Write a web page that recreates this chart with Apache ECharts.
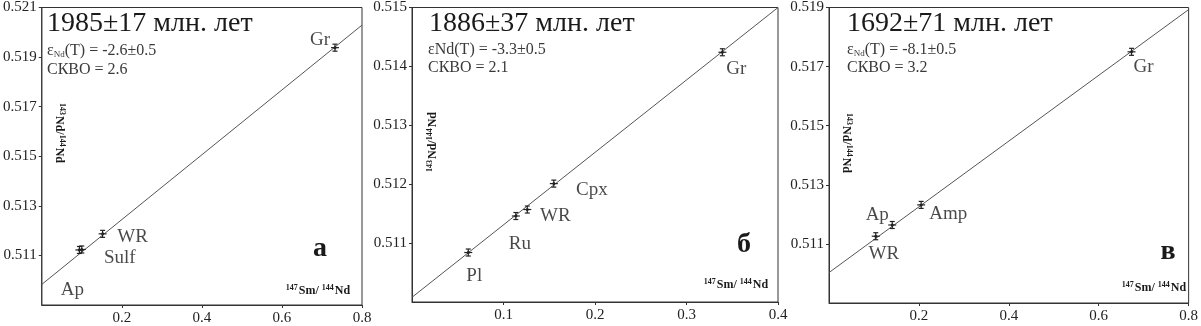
<!DOCTYPE html>
<html><head><meta charset="utf-8">
<script src="https://cdn.jsdelivr.net/npm/echarts@6/dist/echarts.min.js"></script>
<style>html,body{margin:0;padding:0;background:#fff}#c{width:1201px;height:326px}</style>
</head><body><div id="c"></div><script>
// ---- data: panel а ----
const aNames = ['Ap', 'Sulf', 'WR', 'Gr'];
const aX = [0.094, 0.100, 0.152, 0.7325];
const aY = [0.51122, 0.51124, 0.51187, 0.51938];
const aLineX = [0, 0.8];
const aLineY = [0.50983, 0.52029];
// ---- data: panel б ----
const bNames = ['Pl', 'Ru', 'WR', 'Cpx', 'Gr'];
const bX = [0.0615, 0.1135, 0.126, 0.155, 0.3392];
const bY = [0.51084, 0.51146, 0.51157, 0.51201, 0.51424];
const bLineX = [0, 0.4];
const bLineY = [0.51008, 0.51500];
// ---- data: panel в ----
const cNames = ['WR', 'Ap', 'Amp', 'Gr'];
const cX = [0.104, 0.1407, 0.205, 0.673];
const cY = [0.51126, 0.51164, 0.51232, 0.5175];
const cLineX = [0, 0.8];
const cLineY = [0.51003, 0.51893];
// ---- text ----
const titles = ['1985±17 млн. лет', '1886±37 млн. лет', '1692±71 млн. лет'];
const epsVals = ['-2.6±0.5', '-3.3±0.5', '-8.1±0.5'];
const mswd = ['СКВО = 2.6', 'СКВО = 2.1', 'СКВО = 3.2'];
const letters = ['а', 'б', 'в'];

// ---- layout / styles ----
const FONT = '"Liberation Serif", "Times New Roman", serif';
const grids = [
  {left: 36, top: 1, width: 326, height: 305},
  {left: 412, top: 1, width: 366, height: 301},
  {left: 829, top: 1, width: 369, height: 302}
];
const xRanges = [[0, 0.8, 0.2], [0, 0.4, 0.1], [0, 0.8, 0.2]];
const yRanges = [[0.509, 0.521, 0.002], [0.510, 0.515, 0.001], [0.509, 0.519, 0.002]];
const labelOffsets = [
  {Ap: [-7, 40], Sulf: [38, 9], WR: [30, 3], Gr: [-15, -8]},
  {Pl: [6, 23], Ru: [4, 28], WR: [28, 6], Cpx: [38, 6], Gr: [14, 17]},
  {WR: [8, 18], Ap: [-15, -10], Amp: [27, 9], Gr: [12, 15]}
];
const textPos = [
  {title: [47, 24], eps: [47, 51], mswd: [47, 70], letter: [320, 249], xname: [318, 290], yname: [60, 133], yrot: -Math.PI / 2},
  {title: [429, 24], eps: [428, 50], mswd: [428, 68], letter: [744, 245], xname: [736, 284], yname: [432, 142], yrot: Math.PI / 2},
  {title: [847, 24], eps: [847, 50], mswd: [847, 68], letter: [1168, 252], xname: [1154, 287], yname: [847, 143], yrot: -Math.PI / 2}
];

const panels = [
  {names: aNames, x: aX, y: aY, lx: aLineX, ly: aLineY},
  {names: bNames, x: bX, y: bY, lx: bLineX, ly: bLineY},
  {names: cNames, x: cX, y: cY, lx: cLineX, ly: cLineY}
];

const gridOpt = grids.map(g => Object.assign({show: true, borderColor: '#333', borderWidth: 1, backgroundColor: 'transparent'}, g));
const xAxes = xRanges.map((r, i) => ({
  type: 'value', gridIndex: i, min: r[0], max: r[1], interval: r[2],
  axisLine: {show: true, lineStyle: {color: '#333', width: 1}},
  axisTick: {show: true, inside: false, length: 3, lineStyle: {color: '#333'}},
  splitLine: {show: false},
  axisLabel: {showMinLabel: false, fontFamily: FONT, fontSize: 15, color: '#222', margin: 6,
    formatter: v => v.toFixed(1)}
}));
const yAxes = yRanges.map((r, i) => ({
  type: 'value', gridIndex: i, min: r[0], max: r[1], interval: r[2],
  axisLine: {show: true, lineStyle: {color: '#333', width: 1}},
  axisTick: {show: true, inside: false, length: 3, lineStyle: {color: '#333'}},
  splitLine: {show: false},
  axisLabel: {showMinLabel: false, fontFamily: FONT, fontSize: 15, color: '#222', margin: 5,
    formatter: v => v.toFixed(3)}
}));

const series = [];
panels.forEach((p, i) => {
  series.push({
    type: 'line', xAxisIndex: i, yAxisIndex: i, symbol: 'none', silent: true,
    data: p.lx.map((x, k) => [x, p.ly[k]]),
    lineStyle: {color: '#555', width: 1}, z: 2
  });
  series.push({
    type: 'custom', xAxisIndex: i, yAxisIndex: i, z: 3,
    data: p.x.map((x, k) => [x, p.y[k]]),
    renderItem: (params, api) => {
      const c = api.coord([api.value(0), api.value(1)]);
      const st = {stroke: '#222', lineWidth: 1.2};
      const ln = (x1, y1, x2, y2) => ({type: 'line', shape: {x1, y1, x2, y2}, style: st});
      return {type: 'group', children: [
        ln(c[0], c[1] - 3.5, c[0], c[1] + 3.5),
        ln(c[0] - 2.5, c[1] - 3.5, c[0] + 2.5, c[1] - 3.5),
        ln(c[0] - 2.5, c[1] + 3.5, c[0] + 2.5, c[1] + 3.5),
        ln(c[0] - 4, c[1], c[0] + 4, c[1]),
        {type: 'circle', shape: {cx: c[0], cy: c[1], r: 1.5}, style: {fill: '#222'}}
      ]};
    }
  });
  series.push({
    type: 'scatter', xAxisIndex: i, yAxisIndex: i, symbolSize: 0, silent: true, z: 4,
    data: p.names.map((n, k) => ({
      name: n, value: [p.x[k], p.y[k]],
      label: {offset: labelOffsets[i][n]}
    })),
    label: {show: true, position: 'inside', formatter: '{b}', fontFamily: FONT, fontSize: 19,
      color: '#1a1a1a', align: 'center', verticalAlign: 'middle'}
  });
});

const graphic = [];
textPos.forEach((t, i) => {
  graphic.push({type: 'text', x: t.title[0], y: t.title[1], z: 10,
    style: {text: titles[i], font: '28px ' + FONT, fill: '#1a1a1a', align: 'left', verticalAlign: 'middle'}});
  const epsText = i === 1 ? 'εNd(T) = ' + epsVals[i] : 'ε{sub|Nd}(T) = ' + epsVals[i];
  graphic.push({type: 'text', x: t.eps[0], y: t.eps[1], z: 10,
    style: {text: epsText, font: '16px ' + FONT, fill: '#3a3a3a', align: 'left', verticalAlign: 'middle',
      rich: {sub: {fontFamily: FONT, fontSize: 9, fill: '#3a3a3a', verticalAlign: 'bottom', padding: [8, 0, 0, 0]}}}});
  graphic.push({type: 'text', x: t.mswd[0], y: t.mswd[1], z: 10,
    style: {text: mswd[i], font: '16px ' + FONT, fill: '#3a3a3a', align: 'left', verticalAlign: 'middle'}});
  graphic.push({type: 'text', x: t.letter[0], y: t.letter[1], z: 10,
    style: {text: letters[i], font: 'bold 28px ' + FONT, fill: '#1a1a1a', align: 'center', verticalAlign: 'middle'}});
  const supRich = {
    s: {fontFamily: FONT, fontSize: 8, fontWeight: 'bold', fill: '#1a1a1a', verticalAlign: 'top', padding: [0, 1, 5, 0]},
    n: {fontFamily: FONT, fontSize: 12, fontWeight: 'bold', fill: '#1a1a1a', verticalAlign: 'bottom'}
  };
  graphic.push({type: 'text', x: t.xname[0], y: t.xname[1], z: 10,
    style: {text: '{s|147}{n|Sm/ }{s|144}{n|Nd}', align: 'center', verticalAlign: 'middle', rich: supRich}});
  graphic.push({type: 'text', x: t.yname[0], y: t.yname[1], rotation: t.yrot, z: 10,
    style: {text: '{s|143}{n|Nd/}{s|144}{n|Nd}', align: 'center', verticalAlign: 'middle', rich: supRich}});
});

const chart = echarts.init(document.getElementById('c'), null, {renderer: 'canvas'});
chart.setOption({
  animation: false,
  backgroundColor: '#fff',
  grid: gridOpt, xAxis: xAxes, yAxis: yAxes, series, graphic
});
</script></body></html>
